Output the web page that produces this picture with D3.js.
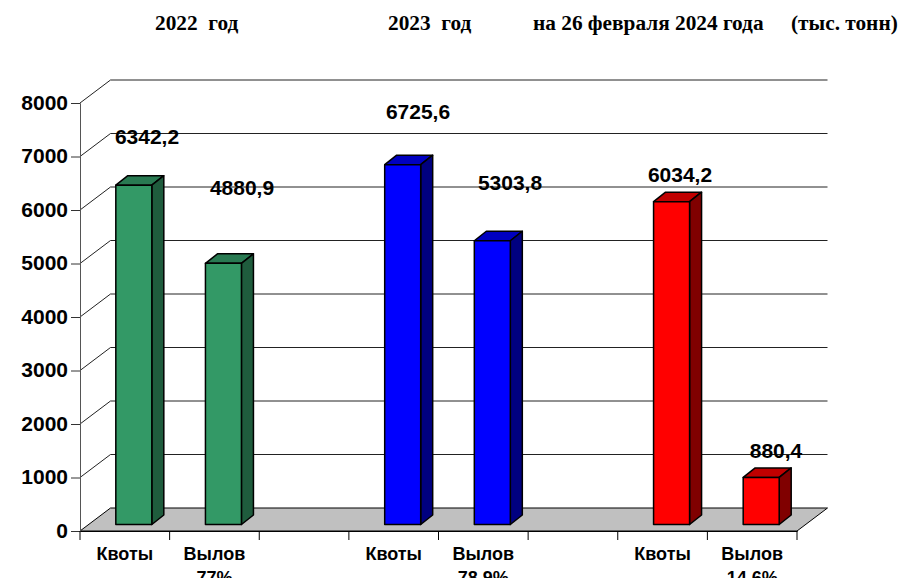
<!DOCTYPE html>
<html>
<head>
<meta charset="utf-8">
<script src="https://cdn.jsdelivr.net/npm/d3@7"></script>
<style>
  html, body { margin: 0; padding: 0; background: #fff; overflow: hidden; }
  text { font-family: "Liberation Sans", Arial, sans-serif; font-weight: bold; fill: #000; white-space: pre; }
  .title { font-family: "Liberation Serif", "Times New Roman", serif; font-size: 21.3px; }
</style>
</head>
<body>
<svg id="chart" width="900" height="578"></svg>
<script>
const categories = ['Квоты', 'Вылов', '', 'Квоты', 'Вылов', '', 'Квоты', 'Вылов'];
const percents = ['', '77%', '', '', '78,9%', '', '', '14,6%'];
const values = [6342.2, 4880.9, null, 6725.6, 5303.8, null, 6034.2, 880.4];
const valueLabels = ['6342,2', '4880,9', '', '6725,6', '5303,8', '', '6034,2', '880,4'];
const yTicks = [0, 1000, 2000, 3000, 4000, 5000, 6000, 7000, 8000];
const titles = ['2022  год', '2023  год', 'на 26 февраля 2024 года', '(тыс. тонн)'];
const titleX = [155, 388, 533, 791];
// labels were dragged by hand in the original, so each has its own spot
const labelX = [147, 242, 0, 418, 510, 0, 680, 776];
const labelY = [144, 195, 0, 119, 190, 0, 182, 458];

const palette = [
  { front: '#339966', side: '#1f5c3d', top: '#297a52' },
  { front: '#0000ff', side: '#000080', top: '#0000c0' },
  { front: '#ff0000', side: '#800000', top: '#c00000' }
];

const svg = d3.select('#chart');
const depthX = 30.5, depthY = 23;
const barW = 36, barDepthX = 12, barDepthY = 9.5;
const barLiftX = 9, barLiftY = 6.5;

const x = d3.scaleBand().domain(d3.range(categories.length)).range([80, 797]);
const y = d3.scaleLinear().domain([0, 8000]).range([531, 103]);

// titles
svg.selectAll('.title')
  .data(titles)
  .join('text')
  .attr('class', 'title')
  .attr('x', (d, i) => titleX[i])
  .attr('y', 30)
  .text(d => d);

// floor
const floor = [[80, y(0)], [80 + depthX, y(0) - depthY], [797 + depthX, y(0) - depthY], [797, y(0)]];
svg.append('polygon')
  .attr('points', floor.join(' '))
  .attr('fill', '#c0c0c0')
  .attr('stroke', '#000')
  .attr('stroke-width', 1);

// gridlines on the side and back walls
const grid = svg.append('g').attr('fill', 'none').attr('stroke', '#222').attr('stroke-width', 1);
grid.selectAll('path')
  .data(yTicks.filter(d => d > 0))
  .join('path')
  .attr('d', d => `M80,${y(d)}L${80 + depthX},${y(d) - depthY}H${797 + depthX}`);

// axes
const yAxis = d3.axisLeft(y).tickValues(yTicks).tickSize(9).tickPadding(3).tickFormat(d3.format('d'));
const gy = svg.append('g').attr('transform', 'translate(80,0)').call(yAxis);
gy.selectAll('text').style('font-size', '21px').attr('dy', '0.3em');
gy.selectAll('line').attr('stroke', '#333');
gy.select('.domain').attr('stroke', '#555');

const xAxis = d3.axisBottom(x).tickValues([]).tickSizeOuter(0);
const gx = svg.append('g').attr('transform', `translate(0,${y(0)})`).call(xAxis);
gx.select('.domain').attr('stroke', '#000');
gx.selectAll('.edge')
  .data(d3.range(categories.length + 1))
  .join('line')
  .attr('class', 'edge')
  .attr('x1', d => 80 + d * x.step())
  .attr('x2', d => 80 + d * x.step())
  .attr('y1', 0)
  .attr('y2', 9)
  .attr('stroke', '#000');

// bars
const bars = svg.append('g').selectAll('g')
  .data(values.map((v, i) => ({ v, i })).filter(d => d.v !== null))
  .join('g')
  .attr('stroke', '#000')
  .attr('stroke-width', 1.5)
  .attr('stroke-linejoin', 'round');

const left = d => x(d.i) + x.bandwidth() / 2 - barW / 2 + barLiftX;
const topY = d => y(d.v) - barLiftY;
const bottom = y(0) - barLiftY;

bars.append('polygon')
  .attr('fill', d => palette[Math.floor(d.i / 3)].top)
  .attr('points', d => {
    const l = left(d), t = topY(d);
    return [[l, t], [l + barDepthX, t - barDepthY], [l + barW + barDepthX, t - barDepthY], [l + barW, t]].join(' ');
  });
bars.append('polygon')
  .attr('fill', d => palette[Math.floor(d.i / 3)].side)
  .attr('points', d => {
    const r = left(d) + barW, t = topY(d);
    return [[r, t], [r + barDepthX, t - barDepthY], [r + barDepthX, bottom - barDepthY], [r, bottom]].join(' ');
  });
bars.append('rect')
  .attr('fill', d => palette[Math.floor(d.i / 3)].front)
  .attr('x', left)
  .attr('y', topY)
  .attr('width', barW)
  .attr('height', d => bottom - topY(d));

// value labels
svg.append('g').selectAll('text')
  .data(valueLabels)
  .join('text')
  .attr('x', (d, i) => labelX[i])
  .attr('y', (d, i) => labelY[i])
  .attr('text-anchor', 'middle')
  .style('font-size', '21px')
  .text(d => d);

// category labels
svg.append('g').selectAll('text')
  .data(categories)
  .join('text')
  .attr('x', (d, i) => x(i) + x.bandwidth() / 2)
  .attr('y', 560)
  .attr('text-anchor', 'middle')
  .style('font-size', '18px')
  .text(d => d);

svg.append('g').selectAll('text')
  .data(percents)
  .join('text')
  .attr('x', (d, i) => x(i) + x.bandwidth() / 2)
  .attr('y', 584)
  .attr('text-anchor', 'middle')
  .style('font-size', '18px')
  .text(d => d);
</script>
</body>
</html>
